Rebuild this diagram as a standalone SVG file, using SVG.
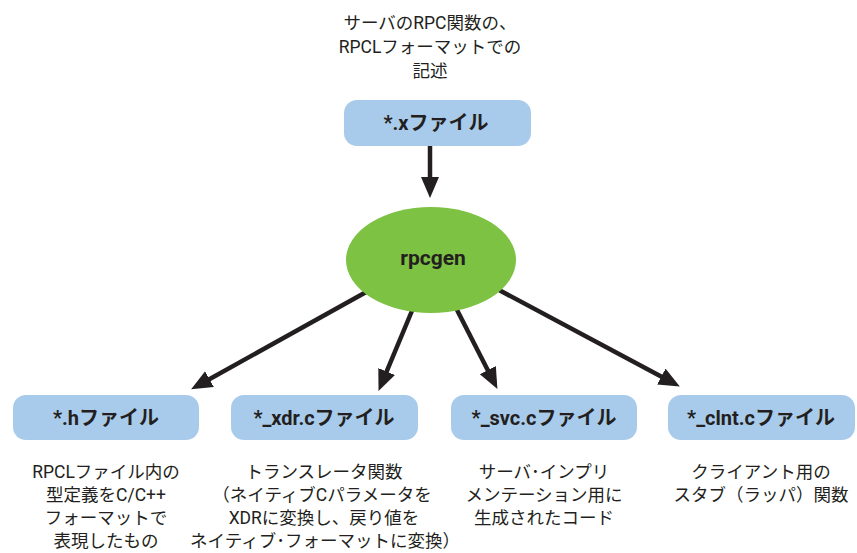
<svg xmlns="http://www.w3.org/2000/svg" width="857" height="553" viewBox="0 0 857 553">
<style>
.box{fill:#A9CBEB;}
.lbl{font-family:"Roboto","Noto Sans CJK JP",sans-serif;font-weight:bold;font-size:20px;fill:#231F20;text-anchor:middle;}
.desc{font-family:"Roboto","Noto Sans CJK JP",sans-serif;font-size:17.5px;fill:#231F20;text-anchor:middle;}
.conn{stroke:#231F20;stroke-width:4.5;fill:none;marker-end:url(#ah);}
</style>
<defs>
<marker id="ah" markerUnits="userSpaceOnUse" markerWidth="22" markerHeight="20" refX="12" refY="9" orient="auto" viewBox="0 0 22 20">
<path d="M0,0 L21,9 L0,18 z" fill="#231F20"/>
</marker>
</defs>
<rect width="857" height="553" fill="#FFFFFF"/>
<g id="connectors">
<line class="conn" x1="430" y1="146" x2="430" y2="189"/>
<line class="conn" x1="368" y1="291" x2="199" y2="385"/>
<line class="conn" x1="414" y1="306" x2="382" y2="382.6"/>
<line class="conn" x1="455" y1="306" x2="493.3" y2="380.9"/>
<line class="conn" x1="499" y1="290" x2="671.9" y2="382.2"/>
</g>
<g id="note-top">
<text class="desc" x="430" y="29">サーバのRPC関数の、</text>
<text class="desc" x="430" y="53">RPCLフォーマットでの</text>
<text class="desc" x="430" y="77">記述</text>
</g>
<g id="node-x">
<rect class="box" x="344" y="100" width="187" height="46" rx="13"/>
<text class="lbl" x="436" y="130">*.xファイル</text>
</g>
<g id="node-rpcgen">
<ellipse cx="431" cy="260" rx="85" ry="53" fill="#7DC242"/>
<text x="433" y="265" font-family="Roboto, sans-serif" font-weight="bold" font-size="21" fill="#231F20" text-anchor="middle">rpcgen</text>
</g>
<g id="node-h">
<rect class="box" x="13" y="395" width="186" height="45" rx="13"/>
<text class="lbl" x="106" y="425">*.hファイル</text>
<text class="desc" x="106" y="478">RPCLファイル内の</text>
<text class="desc" x="106" y="501">型定義をC/C++</text>
<text class="desc" x="106" y="524">フォーマットで</text>
<text class="desc" x="106" y="547">表現したもの</text>
</g>
<g id="node-xdr">
<rect class="box" x="231" y="395" width="187" height="45" rx="13"/>
<text class="lbl" x="324" y="425">*_xdr.cファイル</text>
<text class="desc" x="324" y="478">トランスレータ関数</text>
<text class="desc" x="322" y="501">（ネイティブCパラメータを</text>
<text class="desc" x="324" y="524">XDRに変換し、戻り値を</text>
<text class="desc" x="325" y="547">ネイティブ･フォーマットに変換）</text>
</g>
<g id="node-svc">
<rect class="box" x="451" y="395" width="186" height="45" rx="13"/>
<text class="lbl" x="544" y="425">*_svc.cファイル</text>
<text class="desc" x="544" y="478">サーバ･インプリ</text>
<text class="desc" x="544" y="501">メンテーション用に</text>
<text class="desc" x="544" y="524">生成されたコード</text>
</g>
<g id="node-clnt">
<rect class="box" x="668" y="395" width="187" height="45" rx="13"/>
<text class="lbl" x="761" y="425">*_clnt.cファイル</text>
<text class="desc" x="761" y="478">クライアント用の</text>
<text class="desc" x="761" y="501">スタブ（ラッパ）関数</text>
</g>
</svg>
